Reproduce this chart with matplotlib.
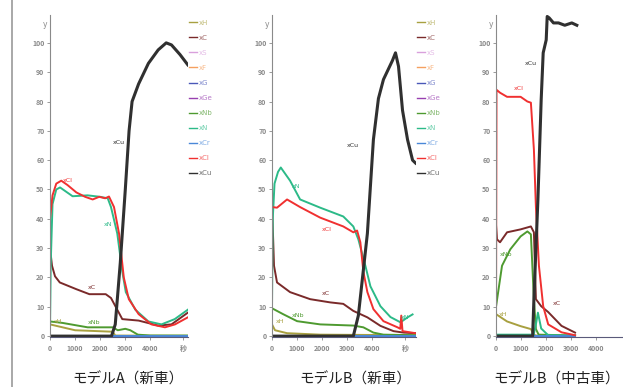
import numpy as np
import matplotlib
matplotlib.use('Agg')
import matplotlib.pyplot as plt
from matplotlib.lines import Line2D

plt.rcParams['font.family'] = ['Noto Sans CJK JP', 'DejaVu Sans']

# legend names and colours (same for the three panels)
LABELS = ['xH', 'xC', 'xS', 'xF', 'xG', 'xGe', 'xNb', 'xN', 'xCr', 'xCl', 'xCu']
COLORS = ['#a8a040', '#7a2a2a', '#d9a0dc', '#f5a060', '#4a58b8',
          '#9840b0', '#4e9a30', '#2cba88', '#4a88d8', '#f03030', '#303030']

TITLES = ['モデルA（新車）', 'モデルB（新車）', 'モデルB（中古車）']
XTICKS = [0, 1000, 2000, 3000, 4000]

# ---- モデルA (新車) ----
A_t_xCu = [0, 2450, 2600, 2800, 3000, 3150, 3270, 3530, 3920, 4310, 4630, 4840, 5180, 5490]
A_xCu = [0, 0, 4, 25, 50, 70, 80, 86, 93, 97.6, 100, 99.3, 96, 92.5]
A_t_xCl = [0, 100, 250, 450, 700, 1050, 1400, 1700, 1960, 2200, 2350, 2550, 2750, 2940, 3140, 3530, 4040, 4580, 4980, 5490]
A_xCl = [40, 48, 52, 53, 51.5, 49, 47.5, 46.6, 47.5, 47, 47.6, 44, 35, 20, 12.6, 7.5, 4, 3, 4, 6.4]
A_t_xN = [0, 30, 100, 250, 400, 900, 1500, 2000, 2300, 2430, 2680, 2880, 3020, 3400, 3920, 4440, 4970, 5490]
A_xN = [2, 25, 45, 50, 50.7, 47.7, 48, 47.5, 47, 44, 35, 22, 15, 9, 5, 4, 5.8, 9]
A_t_xC = [0, 80, 200, 390, 1050, 1570, 2220, 2430, 2680, 2880, 3530, 4310, 4840, 5490]
A_xC = [30, 24, 20.4, 18.3, 16, 14.3, 14.3, 13, 9, 5.8, 5.3, 3.6, 4, 8]
A_t_xNb = [0, 500, 1500, 2500, 2700, 3000, 3200, 3500, 4000, 5490]
A_xNb = [5, 4.5, 3, 3, 2, 2.5, 2, 0.5, 0.2, 0.2]
A_t_xH = [0, 1000, 2500, 2600, 5490]
A_xH = [4, 2, 1.5, 0.2, 0.1]
A_xmax = 5490

# ---- モデルB (新車) ----
B_t_xCu = [0, 3240, 3440, 3800, 4040, 4240, 4440, 4800, 4920, 5040, 5200, 5400, 5600, 5720]
B_xCu = [0, 0, 7, 35, 67, 81, 87.5, 94, 96.6, 92, 77, 67, 60, 59]
B_t_xN = [0, 30, 100, 240, 350, 720, 1120, 1920, 2840, 3240, 3440, 3720, 3920, 4320, 4720, 5120, 5400, 5600]
B_xN = [10, 40, 52, 56, 57.5, 53, 46.6, 43.8, 40.8, 37.4, 33, 24, 17, 10.2, 6.5, 4.7, 6.4, 7.4]
B_t_xCl = [0, 200, 600, 1120, 1920, 2840, 3240, 3390, 3520, 3640, 3800, 4040, 4440, 5000, 5110, 5150, 5200, 5720]
B_xCl = [44, 43.8, 46.6, 44, 40.4, 37.4, 35.4, 36, 32, 22, 15, 9.2, 5.1, 3, 2.5, 7, 1.7, 1]
B_t_xC = [0, 80, 200, 720, 1520, 2320, 2840, 3240, 3800, 4320, 4840, 5240, 5720]
B_xC = [45, 24, 18.3, 15, 12.6, 11.5, 11, 8.6, 6.4, 3.5, 1.7, 1.2, 1]
B_t_xNb = [0, 440, 1000, 1920, 3240, 3640, 4040, 4440, 5720]
B_xNb = [9.5, 7.5, 5.1, 4, 3.6, 3, 1.2, 0.5, 0.3]
B_t_xH = [0, 120, 600, 1920, 5720]
B_xH = [4, 2, 1, 0.5, 0.3]
B_xmax = 5720

# ---- モデルB (中古車) ----
C_t_xCu = [0, 1460, 1510, 1670, 1800, 1880, 2000, 2040, 2120, 2290, 2490, 2740, 3020, 3220]
C_xCu = [0, 0, 12.6, 46.6, 80.6, 96.6, 101, 109, 108.5, 106.8, 106.8, 106, 106.8, 106]
C_t_xCl = [0, 20, 160, 440, 980, 1250, 1390, 1510, 1590, 1710, 1880, 2080, 2610, 3150]
C_xCl = [2, 84, 83, 81.6, 81.6, 80, 79.6, 63.6, 44, 24, 10.2, 4, 1.3, 0.3]
C_t_xC = [0, 40, 160, 440, 980, 1390, 1510, 1590, 1800, 2080, 2610, 3150]
C_xC = [38, 33, 32, 35.4, 36.4, 37.4, 35.4, 12.6, 10.2, 8.2, 3.5, 1.2]
C_t_xNb = [0, 240, 570, 980, 1250, 1390, 1510, 1590, 1700, 3150]
C_xNb = [10, 24, 29.6, 34, 35.7, 34.7, 12.6, 2.4, 0.5, 0.2]
C_t_xH = [0, 440, 980, 1390, 1510, 1600, 3150]
C_xH = [7.5, 5, 3.4, 2.4, 0.5, 0.2, 0.1]
C_t_xN = [0, 1500, 1590, 1670, 1800, 2080, 3150]
C_xN = [0.5, 0.5, 4, 8, 2.6, 0.3, 0.2]
C_xmax = 3150

# curve labels: (name, x, y)
A_NOTES = [('xCl', 500, 53), ('xN', 2150, 38), ('xCu', 2500, 66), ('xC', 1500, 16.5),
           ('xNb', 1500, 4.5), ('xH', 150, 5)]
B_NOTES = [('xN', 800, 51), ('xCl', 2000, 36.5), ('xCu', 3000, 65), ('xC', 2000, 14.5),
           ('xNb', 800, 7), ('xH', 150, 5), ('xN', 5150, 6.5)]
C_NOTES = [('xCu', 1150, 93), ('xCl', 700, 84.5), ('xC', 2250, 11), ('xNb', 150, 28),
           ('xH', 120, 7.5)]

PANELS = [
    dict(xmax=A_xmax, xlim=5480, left=50, legend=True, sec=True,
         series={'xCu': (A_t_xCu, A_xCu), 'xCl': (A_t_xCl, A_xCl), 'xN': (A_t_xN, A_xN),
                 'xC': (A_t_xC, A_xC), 'xNb': (A_t_xNb, A_xNb), 'xH': (A_t_xH, A_xH)},
         notes=A_NOTES),
    dict(xmax=B_xmax, xlim=5720, left=272, legend=True, sec=True,
         series={'xCu': (B_t_xCu, B_xCu), 'xCl': (B_t_xCl, B_xCl), 'xN': (B_t_xN, B_xN),
                 'xC': (B_t_xC, B_xC), 'xNb': (B_t_xNb, B_xNb), 'xH': (B_t_xH, B_xH)},
         notes=B_NOTES),
    # the third panel runs off the right edge of the page: no legend, no "秒"
    dict(xmax=C_xmax, xlim=5600, left=496, legend=False, sec=False,
         series={'xCu': (C_t_xCu, C_xCu), 'xCl': (C_t_xCl, C_xCl), 'xN': (C_t_xN, C_xN),
                 'xC': (C_t_xC, C_xC), 'xNb': (C_t_xNb, C_xNb), 'xH': (C_t_xH, C_xH)},
         notes=C_NOTES),
]
TITLE_X = [128, 355, 557]

W, H = 623, 387
fig = plt.figure(figsize=(W / 100, H / 100), dpi=100)

# grey frame line on the left
fig.add_artist(Line2D([12 / W, 12 / W], [0, 1], color='#9a9a9a', lw=1.2))

for p, title, tx in zip(PANELS, TITLES, TITLE_X):
    px_per_unit = 0.0251
    width = p['xlim'] * px_per_unit
    ax = fig.add_axes([p['left'] / W, 50 / H, width / W, 322 / H])
    ax.patch.set_alpha(0)
    handles = []
    for name, col in zip(LABELS, COLORS):
        if name in p['series']:
            t, v = p['series'][name]
        else:
            t, v = [0, p['xmax']], [0, 0]
        lw = 2.2 if name == 'xCu' else 1.4
        ax.plot(t, v, color=col, lw=lw, solid_joinstyle='round')
        handles.append(Line2D([], [], color=col, lw=1.0))
    for name, x, y in p['notes']:
        col = COLORS[LABELS.index(name)]
        ax.text(x, y, name, fontsize=4.5, color=col, family='DejaVu Sans',
                ha='left', va='center')

    ax.set_xlim(0, p['xlim'])
    ax.set_ylim(-0.3, 109.5)
    ax.set_yticks(range(0, 101, 10))
    ax.set_yticklabels([str(v) for v in range(0, 101, 10)])
    if p['sec']:
        ax.set_xticks(XTICKS + [5300])
        ax.set_xticklabels([str(v) for v in XTICKS] + ['秒'])
    else:
        ax.set_xticks(XTICKS)
        ax.set_xticklabels([str(v) for v in XTICKS])
    ax.tick_params(labelsize=5, colors='#8a8a8a', length=2, width=0.6, pad=2)
    ax.tick_params(axis='x', pad=4)
    for lab in ax.get_xticklabels() + ax.get_yticklabels():
        lab.set_fontweight('bold')
    for s in ['top', 'right']:
        ax.spines[s].set_visible(False)
    ax.spines['left'].set_color('#8a8a8a')
    ax.spines['bottom'].set_color('#5a5a7a')
    ax.text(-0.02, 0.985, 'y', transform=ax.transAxes, fontsize=5.5, color='#8a8a8a',
            ha='right', va='top', family='DejaVu Sans')

    if p['legend']:
        leg = ax.legend(handles, LABELS, loc='upper left', bbox_to_anchor=(1.01, 0.985),
                        fontsize=5, handlelength=1.1, handletextpad=0.3, labelspacing=1.3,
                        frameon=False, borderaxespad=0, borderpad=0, labelcolor='linecolor')
        for txt in leg.get_texts():
            txt.set_alpha(0.7)
            txt.set_family('DejaVu Sans')

    # page titles sit right at the bottom edge of the clipping
    fig.text(tx / W, 3 / H, title, fontsize=10.5, ha='center', va='baseline', color='#222222')

fig.savefig('out.png', dpi=100)
